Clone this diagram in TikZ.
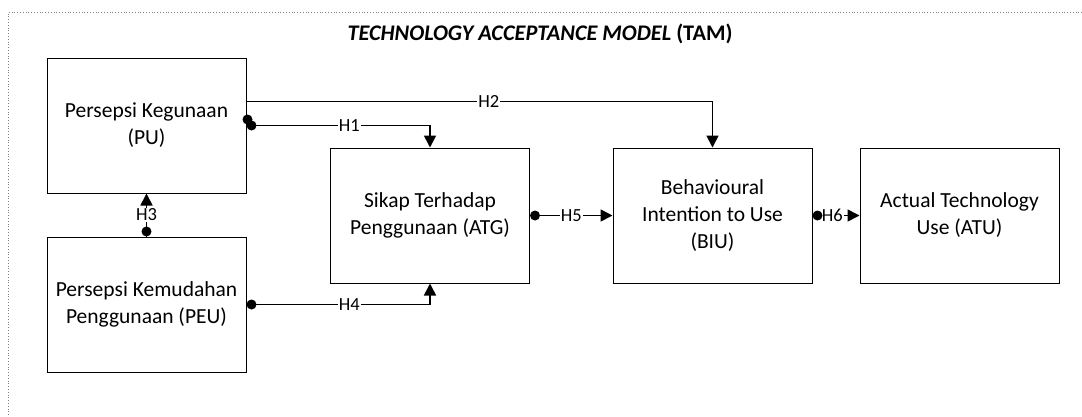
\documentclass[tikz,border=0pt]{standalone}
\usepackage{fontspec}
\setmainfont{Carlito}
\usetikzlibrary{arrows.meta}

\begin{document}
\begin{tikzpicture}[x=1pt,y=-1pt,
  box/.style={draw=black, line width=1pt, minimum width=199pt, minimum height=135pt,
    inner sep=0pt, align=center, font=\fontsize{21.5}{27}\selectfont},
  link/.style={line width=1.6pt, -{Triangle[length=12pt,width=12pt]}},
  startdot/.style={circle, fill=black, inner sep=0pt, minimum size=10pt},
  lbl/.style={fill=white, inner sep=1pt, font=\fontsize{18.5}{20}\selectfont}]
\useasboundingbox (0,0) rectangle (1082,416);

% dotted frame (only its top and left sides fall inside the page)
\draw[gray, dotted, line width=0.8pt] (1082,12) -- (8.5,12) -- (8.5,416);

% title
\node[font=\fontsize{22.3}{26}\selectfont] (title) at (540,34)
  {\textbf{\textit{TECHNOLOGY ACCEPTANCE MODEL}} \textbf{(TAM)}};

% constructs
\node[box] (pu)  at (146.5,125.5) {Persepsi Kegunaan\\(PU)};
\node[box] (peu) at (146.5,304.5) {Persepsi Kemudahan\\Penggunaan (PEU)};
\node[box] (atg) at (430,215.5)   {Sikap Terhadap\\Penggunaan (ATG)};
\node[box] (biu) at (712.5,215.5) {Behavioural\\Intention to Use\\(BIU)};
\node[box] (atu) at (959.5,215.5) {Actual Technology\\Use (ATU)};

% hypotheses
\draw[link] ([yshift=6pt]pu.east) -- ++(0,-18) -| node[lbl,pos=0.26] {H2} (biu.north);
\node[startdot] (d2) at ([xshift=1pt,yshift=6pt]pu.east) {};

\draw[link] (pu.east) -| node[lbl,pos=0.28] {H1} (atg.north);
\node[startdot] (d1) at ([xshift=5pt]pu.east) {};

\draw[link] (peu.north) -- node[lbl] {H3} (pu.south);
\node[startdot] (d3) at ([yshift=5pt]peu.north) {};

\draw[link] (peu.east) -| node[lbl,pos=0.28] {H4} (atg.south);
\node[startdot] (d4) at ([xshift=5pt]peu.east) {};

\draw[link] (atg.east) -- node[lbl] {H5} (biu.west);
\node[startdot] (d5) at ([xshift=5pt]atg.east) {};

\draw[link] (biu.east) -- node[lbl,pos=0.42] {H6} (atu.west);
\node[startdot] (d6) at ([xshift=5pt]biu.east) {};
\end{tikzpicture}
\end{document}
